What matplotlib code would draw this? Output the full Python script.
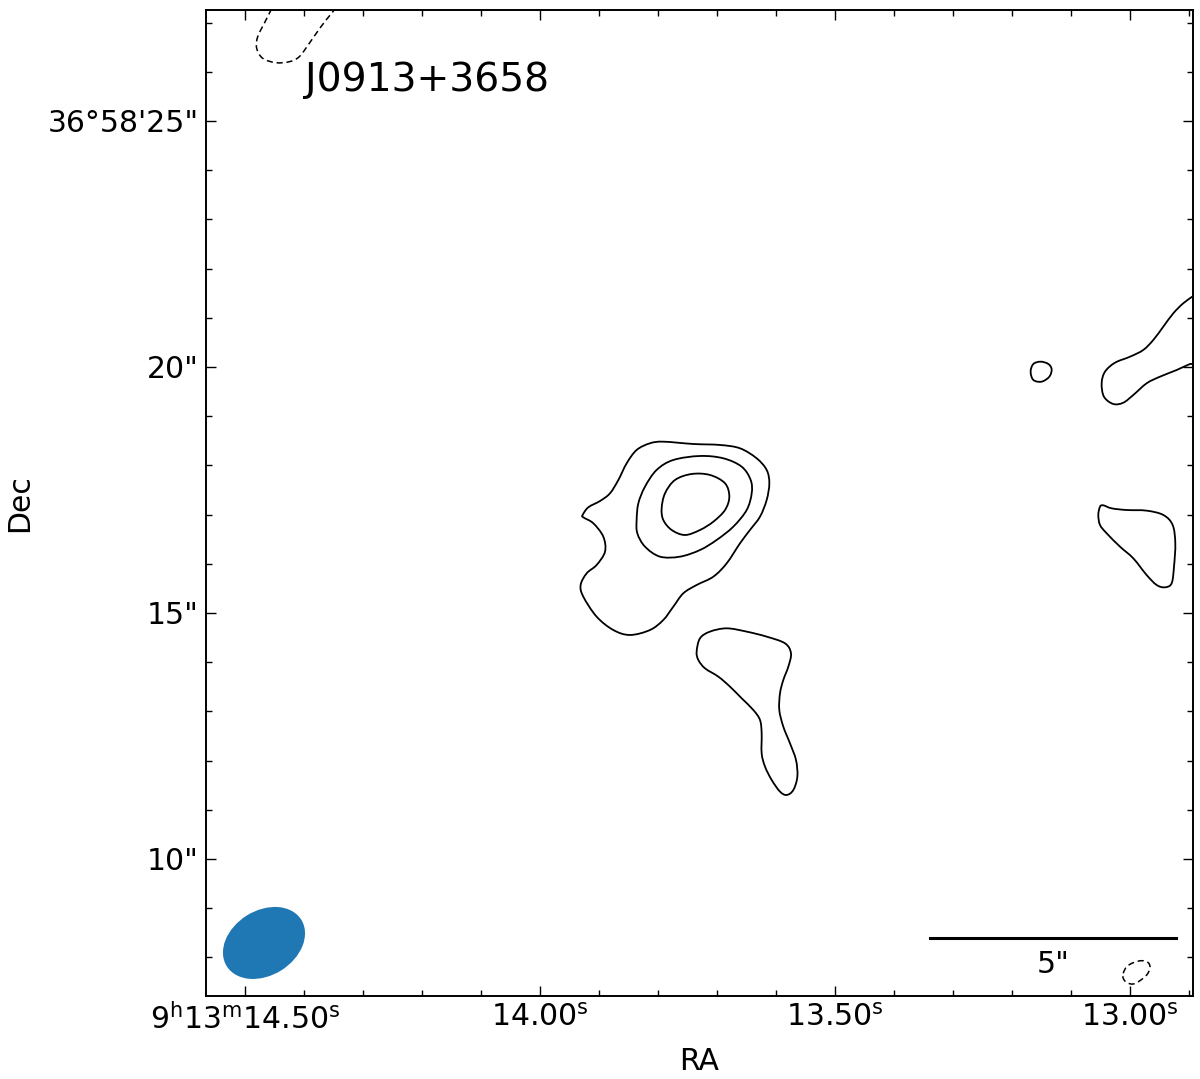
import numpy as np
import matplotlib
matplotlib.use("Agg")
import matplotlib.pyplot as plt
from matplotlib.path import Path
from matplotlib.patches import PathPatch, Ellipse
from matplotlib.ticker import MultipleLocator
from matplotlib.transforms import Affine2D

# source / field
name = "J0913+3658"
dec_center = 36 + 58/60 + 17/3600   # deg, fuer RA-Skalierung

# Achsen (RA in Sekunden von 9h13m, Dec in Bogensekunden ueber 36d58')
ra_lim = (14.5661, 12.8932)
dec_lim = (7.215, 27.256)
ra_ticks = [14.50, 14.00, 13.50, 13.00]
ra_labels = [r"$9^{\mathrm{h}}13^{\mathrm{m}}14.50^{\mathrm{s}}$", r"$14.00^{\mathrm{s}}$",
             r"$13.50^{\mathrm{s}}$", r"$13.00^{\mathrm{s}}$"]
dec_ticks = [25, 20, 15, 10]
dec_labels = ["36°58'25\"", '20"', '15"', '10"']

# positive Konturen (durchgezogen)
outer_ra = [13.9277, 13.9181, 13.8983, 13.8814, 13.8672, 13.8531, 13.8362, 13.8136, 13.7910, 13.7401,
            13.6949, 13.6610, 13.6328, 13.6158, 13.6113, 13.6158, 13.6271, 13.6441, 13.6610, 13.6836,
            13.7062, 13.7345, 13.7571, 13.7740, 13.7910, 13.8136, 13.8475, 13.8757, 13.9040, 13.9266,
            13.9311, 13.9209, 13.9040, 13.8898, 13.8927, 13.9096, 13.9266]
outer_dec = [16.992, 17.148, 17.276, 17.432, 17.703, 18.042, 18.313, 18.449, 18.482, 18.435,
             18.415, 18.347, 18.144, 17.907, 17.636, 17.297, 16.958, 16.687, 16.416, 16.009,
             15.738, 15.569, 15.400, 15.129, 14.858, 14.654, 14.553, 14.654, 14.925, 15.332,
             15.569, 15.806, 15.976, 16.247, 16.551, 16.823, 16.944]

mid_ra = [13.8362, 13.8333, 13.8220, 13.8023, 13.7740, 13.7288, 13.6893, 13.6582, 13.6429,
          13.6412, 13.6497, 13.6723, 13.7006, 13.7288, 13.7627, 13.7966, 13.8220, 13.8350]
mid_dec = [16.890, 17.229, 17.568, 17.907, 18.110, 18.191, 18.144, 17.974, 17.703,
           17.432, 17.093, 16.755, 16.484, 16.280, 16.145, 16.145, 16.348, 16.619]

inner_ra = [13.7938, 13.7881, 13.7712, 13.7429, 13.7119, 13.6864, 13.6791, 13.6864, 13.7062,
            13.7288, 13.7542, 13.7768, 13.7910]
inner_dec = [17.127, 17.432, 17.703, 17.825, 17.805, 17.636, 17.364, 17.093, 16.856,
             16.687, 16.585, 16.687, 16.890]

south_ra = [13.7345, 13.7288, 13.7119, 13.6836, 13.6497, 13.6158, 13.5847, 13.5746, 13.5791, 13.5876,
            13.5932, 13.5944, 13.5876, 13.5763, 13.5661, 13.5638, 13.5706, 13.5819, 13.5932, 13.6073,
            13.6186, 13.6243, 13.6243, 13.6271, 13.6384, 13.6582, 13.6780, 13.6977, 13.7203, 13.7316]
south_dec = [14.214, 14.485, 14.621, 14.688, 14.621, 14.519, 14.383, 14.180, 13.909, 13.638,
             13.367, 13.028, 12.690, 12.351, 12.012, 11.673, 11.402, 11.301, 11.369, 11.606,
             11.877, 12.148, 12.554, 12.825, 13.028, 13.266, 13.503, 13.706, 13.875, 14.045]

blob_ra = [13.1684, 13.1638, 13.1514, 13.1384, 13.1328, 13.1367, 13.1497, 13.1638]
blob_dec = [19.905, 20.061, 20.108, 20.061, 19.953, 19.803, 19.702, 19.736]

edge_ra = [12.8814, 12.8927, 12.9097, 12.9266, 12.9436, 12.9605, 12.9775, 13.0000, 13.0254, 13.0424,
           13.0480, 13.0441, 13.0283, 13.0114, 12.9944, 12.9717, 12.9492, 12.9208, 12.8983, 12.8814]
edge_dec = [21.545, 21.443, 21.295, 21.091, 20.819, 20.549, 20.346, 20.209, 20.087, 19.904,
            19.669, 19.396, 19.248, 19.274, 19.431, 19.669, 19.803, 19.939, 20.061, 20.122]

east_ra = [13.0508, 13.0452, 13.0311, 13.0056, 12.9718, 12.9435, 12.9277, 12.9232, 12.9254,
           12.9294, 12.9407, 12.9548, 12.9718, 12.9944, 13.0169, 13.0395, 13.0508, 13.0537]
east_dec = [17.161, 17.188, 17.127, 17.093, 17.080, 16.992, 16.789, 16.416, 15.942,
            15.603, 15.522, 15.569, 15.772, 16.111, 16.348, 16.619, 16.789, 16.992]

# negative Konturen (gestrichelt)
neg1_ra = [14.4475, 14.4559, 14.4673, 14.4785, 14.4802, 14.4700, 14.4475, 14.4249, 14.4080,
           14.3910, 14.3712, 14.3525, 14.3373]
neg1_dec = [27.459, 27.256, 26.986, 26.713, 26.478, 26.274, 26.185, 26.205, 26.307,
            26.579, 26.917, 27.201, 27.419]

neg2_ra = [13.0114, 13.0056, 12.9944, 12.9802, 12.9690, 12.9661, 12.9717, 12.9831, 12.9944, 13.0056, 13.0114]
neg2_dec = [7.677, 7.811, 7.892, 7.933, 7.892, 7.778, 7.642, 7.527, 7.459, 7.486, 7.575]

# Beam (Bogensekunden, PA oestlich von Nord)
beam_ra, beam_dec = 14.4678, 8.293
beam_major, beam_minor, beam_pa = 1.785, 1.317, -58.0

# Massstab
bar_ra, bar_dec, bar_len = 13.3390, 8.394, 5.0


def smooth(xs, ys, closed=True):
    # Catmull-Rom -> kubische Bezier, nur fuer glatte Linien
    p = np.column_stack([xs, ys])
    n = len(p)
    verts = [p[0]]
    codes = [Path.MOVETO]
    for i in range(n if closed else n - 1):
        p0 = p[(i - 1) % n] if (closed or i > 0) else p[0]
        p1 = p[i]
        p2 = p[(i + 1) % n]
        p3 = p[(i + 2) % n] if (closed or i + 2 < n) else p[n - 1]
        verts += [p1 + (p2 - p0) / 6, p2 - (p3 - p1) / 6, p2]
        codes += [Path.CURVE4] * 3
    return Path(verts, codes)


fig = plt.figure(figsize=(12, 10.79), dpi=100)
ax = fig.add_axes([206/1200, 1 - 996/1079, 987/1200, 986/1079])
ax.set_xlim(*ra_lim)
ax.set_ylim(*dec_lim)

for xs, ys in [(outer_ra, outer_dec), (mid_ra, mid_dec), (inner_ra, inner_dec),
               (south_ra, south_dec), (blob_ra, blob_dec), (edge_ra, edge_dec),
               (east_ra, east_dec)]:
    ax.add_patch(PathPatch(smooth(xs, ys), fill=False, ec="k", lw=1.3))

ax.add_patch(PathPatch(smooth(neg1_ra, neg1_dec, closed=False), fill=False, ec="k", lw=1.1,
                       ls=(0, (4, 2.5))))
ax.add_patch(PathPatch(smooth(neg2_ra, neg2_dec), fill=False, ec="k", lw=1.1, ls=(0, (4, 2.5))))

# beam in (West, Nord) Bogensekunden -> Datenkoordinaten
arcsec_per_s = 15 * np.cos(np.deg2rad(dec_center))
tr = Affine2D().scale(-1 / arcsec_per_s, 1).translate(beam_ra, beam_dec) + ax.transData
ax.add_patch(Ellipse((0, 0), beam_major, beam_minor, angle=90 + beam_pa, transform=tr,
                     color="#1f77b4", lw=0))

# scale bar
ax.plot([bar_ra, bar_ra - bar_len / arcsec_per_s], [bar_dec, bar_dec], color="k", lw=2.2)
ax.text(bar_ra - bar_len / arcsec_per_s / 2, bar_dec - 0.25, '5"', ha="center", va="top", fontsize=21.5)

ax.text(0.1, 0.918, name, transform=ax.transAxes, fontsize=28.3, va="baseline")

ax.set_xticks(ra_ticks, labels=ra_labels)
ax.set_yticks(dec_ticks, labels=dec_labels)
ax.xaxis.set_minor_locator(MultipleLocator(0.1))
ax.yaxis.set_minor_locator(MultipleLocator(1))
ax.tick_params(which="both", direction="in", top=True, right=True, width=1.0, labelsize=21.5, pad=5)
ax.tick_params(which="major", length=7)
ax.tick_params(which="minor", length=4)
for s in ax.spines.values():
    s.set_linewidth(1.4)

ax.set_xlabel("RA", fontsize=21.5)
ax.set_ylabel("Dec", fontsize=21.5)
ax.xaxis.set_label_coords(0.5, -0.052)
ax.yaxis.set_label_coords(-0.174, 0.5)

fig.savefig("out.png", dpi=100)
